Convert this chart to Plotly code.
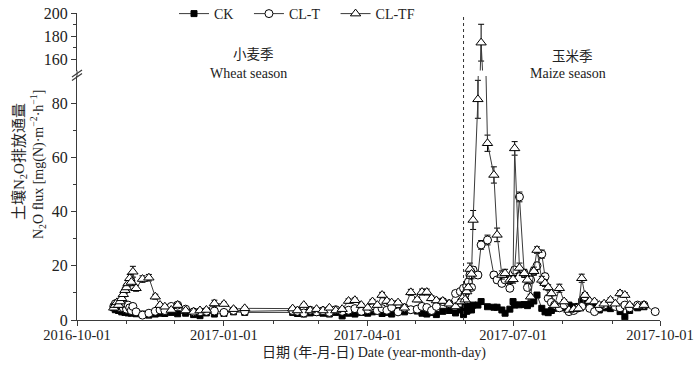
import plotly.graph_objects as go

# ---------------- data ----------------
dates = [
    "2016-10-24", "2016-10-25", "2016-10-26", "2016-10-27", "2016-10-28", "2016-10-29",
    "2016-10-30", "2016-10-31", "2016-11-01", "2016-11-02", "2016-11-03", "2016-11-04",
    "2016-11-05", "2016-11-07", "2016-11-11", "2016-11-15", "2016-11-19", "2016-11-22",
    "2016-11-25", "2016-11-29", "2016-12-03", "2016-12-08", "2016-12-13", "2016-12-17",
    "2016-12-21", "2016-12-26", "2017-01-01", "2017-01-07", "2017-01-14",
    "2017-02-13", "2017-02-16", "2017-02-20", "2017-02-24", "2017-02-28", "2017-03-04",
    "2017-03-08", "2017-03-12", "2017-03-16", "2017-03-20", "2017-03-24", "2017-03-28",
    "2017-04-01", "2017-04-04", "2017-04-07", "2017-04-10", "2017-04-13", "2017-04-16",
    "2017-04-20", "2017-04-24", "2017-04-28", "2017-05-02", "2017-05-05", "2017-05-08",
    "2017-05-11", "2017-05-14", "2017-05-18", "2017-05-22", "2017-05-26", "2017-05-29",
    "2017-05-31",
    "2017-06-01", "2017-06-02", "2017-06-03", "2017-06-04", "2017-06-05", "2017-06-06",
    "2017-06-09", "2017-06-11", "2017-06-15", "2017-06-19", "2017-06-21", "2017-06-24",
    "2017-06-26", "2017-06-29", "2017-07-01", "2017-07-02", "2017-07-05", "2017-07-08",
    "2017-07-10", "2017-07-12", "2017-07-14", "2017-07-16", "2017-07-19", "2017-07-21",
    "2017-07-23", "2017-07-25", "2017-07-27", "2017-07-30", "2017-08-02", "2017-08-05",
    "2017-08-08", "2017-08-11", "2017-08-13", "2017-08-15", "2017-08-18", "2017-08-21",
    "2017-08-24", "2017-08-27", "2017-08-31", "2017-09-03", "2017-09-06", "2017-09-09",
    "2017-09-12", "2017-09-17", "2017-09-21", "2017-09-28",
]

ck = [
    4.5, 3.8, 5.0, 3.5, 4.0, 3.0, 3.5, 2.8, 3.2, 2.6, 3.0, 2.5, 2.8, 2.3, 2.2, 1.8, 2.2, 2.5,
    2.4, 2.8, 2.3, 2.5, 2.0, 1.6, 2.6, 2.2, 2.4, 3.0, 2.8,
    2.8, 2.4, 2.2, 2.6, 2.8, 2.5, 2.2, 2.8, 1.5, 2.5, 2.2, 2.8, 2.5, 3.0, 3.3, 2.4, 2.8, 2.2,
    3.5, 3.0, 3.8, 3.3, 2.5, 2.2, 2.8, 2.0, 3.2, 3.5, 2.6, 3.7, 2.0,
    4.9, 3.2, 3.7, 5.0, 3.7, 5.5, 5.5, 6.8, 4.9, 4.7, 4.7, 3.7, 2.5, 4.0, 6.8, 5.5, 5.6, 5.7,
    5.3, 6.0, 7.0, 9.2, 4.3, 3.0, 2.7, 3.5, 4.3, 4.9, 4.5, 5.5, 4.9, 5.0, 6.8, 6.0, 5.5, 5.0,
    3.7, 4.5, 4.2, 5.0, 3.1, 1.2, 3.5, 4.5, 4.9, None,
]

cl_t = [
    5.0, 6.0, 5.0, 5.5, 4.5, 5.0, 4.5, 5.5, 4.0, 5.5, 4.5, 3.5, 5.0, 3.0, 1.8, 2.5, 3.2, 3.7,
    3.5, 5.0, 5.5, 4.0, 3.0, 3.0, 3.2, 3.3, 2.8, 3.5, 3.2,
    3.5, 3.2, 2.6, 3.6, 3.0, 3.4, 2.8, 3.8, 3.2, 3.6, 4.2, 3.2, 3.8, 4.6, 3.5, 4.2, 3.6, 4.6,
    3.0, 4.5, 3.8, 4.0, 5.0, 4.6, 3.5, 5.0, 6.8, 6.0, 9.8, 10.5, 11.7,
    9.5, 12.5, 14.0, 16.6, 12.0, 18.4, 16.6, 27.7, 29.5, 16.6, 14.8, 13.5, 14.8, 11.7, 17.2,
    18.4, 45.4, 17.2, 12.0, 14.8, 18.0, 20.0, 24.3, 16.0, 8.0, 6.5, 5.5, 4.5, 5.5, 3.1, 3.5,
    4.5, 5.0, 8.6, 4.3, 3.1, 4.5, 5.5, 6.2, 5.0, 4.5, 5.5, 4.5, 5.5, 5.5, 3.1,
]

cl_tf = [
    4.5, 5.5, 6.5, 5.5, 6.8, 8.0, 9.5, 11.0, 12.0, 13.5, 15.4, 14.0, 17.8, 11.7, 15.1, 15.6,
    8.6, 5.5, 4.9, 3.7, 5.5, 3.5, 3.0, 3.5, 3.7, 6.1, 5.9, 4.0, 4.3,
    4.2, 3.5, 5.5, 3.5, 4.0, 3.5, 4.5, 3.5, 4.0, 7.0, 7.3, 5.5, 4.5, 6.8, 5.5, 9.2, 7.0, 6.4,
    6.4, 4.5, 10.2, 7.5, 10.3, 10.3, 8.0, 7.2, 7.0, 6.0, 5.0, 6.8, 8.6,
    7.5, 10.5, 12.0, 18.8, 17.0, 36.9, 81.4, 174.2, 65.2, 53.5, 31.4, 16.6, 17.2, 14.8, 15.0,
    63.3, 19.2, 17.2, 14.8, 8.6, 18.0, 25.8, 14.8, 13.6, 12.0, 9.8, 5.5, 11.7, 6.8, 3.7, 4.0,
    4.2, 15.4, 9.2, 7.0, 6.8, 5.5, 6.0, 7.4, 6.0, 9.8, 9.2, 5.5, 5.0, 5.5, None,
]

ck_err = [
    0.5, 0.4, 0.6, 0.4, 0.5, 0.3, 0.4, 0.3, 0.3, 0.3, 0.3, 0.3, 0.3, 0.3, 0.3, 0.2, 0.3, 0.3,
    0.3, 0.3, 0.3, 0.3, 0.2, 0.2, 0.3, 0.2, 0.3, 0.3, 0.3,
    0.3, 0.3, 0.2, 0.3, 0.3, 0.3, 0.2, 0.3, 0.2, 0.3, 0.2, 0.3, 0.3, 0.3, 0.4, 0.3, 0.3, 0.2,
    0.4, 0.3, 0.4, 0.4, 0.3, 0.2, 0.3, 0.2, 0.3, 0.4, 0.3, 0.4, 0.3,
    0.5, 0.4, 0.4, 0.5, 0.4, 0.5, 0.5, 0.6, 0.5, 0.5, 0.5, 0.4, 0.3, 0.4, 0.6, 0.5, 0.5, 0.5,
    0.5, 0.6, 0.6, 0.8, 0.4, 0.3, 0.3, 0.4, 0.4, 0.5, 0.4, 0.5, 0.5, 0.5, 0.6, 0.6, 0.5, 0.5,
    0.4, 0.4, 0.4, 0.5, 0.3, 0.2, 0.4, 0.4, 0.5, None,
]

cl_t_err = [
    0.6, 0.7, 0.6, 0.6, 0.5, 0.6, 0.5, 0.6, 0.5, 0.6, 0.5, 0.4, 0.6, 0.4, 0.3, 0.3, 0.4, 0.4,
    0.4, 0.5, 0.6, 0.4, 0.4, 0.4, 0.4, 0.4, 0.3, 0.4, 0.4,
    0.4, 0.4, 0.3, 0.4, 0.4, 0.4, 0.3, 0.4, 0.4, 0.4, 0.5, 0.4, 0.4, 0.5, 0.4, 0.5, 0.4, 0.5,
    0.4, 0.5, 0.4, 0.5, 0.5, 0.5, 0.4, 0.5, 0.7, 0.6, 0.9, 1.0, 1.0,
    0.9, 1.0, 1.1, 1.2, 1.0, 1.3, 1.2, 1.6, 1.8, 1.2, 1.1, 1.0, 1.1, 1.0, 1.2, 1.3, 1.8, 1.2,
    1.0, 1.1, 1.2, 1.3, 1.5, 1.2, 0.8, 0.7, 0.6, 0.5, 0.6, 0.4, 0.4, 0.5, 0.6, 0.8, 0.5, 0.4,
    0.5, 0.6, 0.6, 0.5, 0.5, 0.6, 0.5, 0.6, 0.6, 0.4,
]

cl_tf_err = [
    0.6, 0.7, 0.8, 0.7, 0.8, 0.9, 1.0, 1.1, 1.2, 1.3, 1.4, 1.3, 2.0, 1.1, 1.2, 1.2, 0.9, 0.6,
    0.6, 0.5, 0.6, 0.5, 0.4, 0.5, 0.5, 1.2, 0.7, 0.5, 0.5,
    0.5, 0.5, 0.6, 0.5, 0.5, 0.5, 0.5, 0.5, 0.5, 0.8, 0.8, 0.6, 0.5, 0.8, 0.6, 1.0, 0.8, 0.7,
    0.7, 0.5, 1.1, 0.8, 1.1, 1.1, 0.9, 0.8, 0.8, 0.7, 0.6, 0.8, 1.0,
    0.8, 1.0, 1.2, 2.2, 1.8, 3.5, 7.0, 16.0, 3.0, 3.0, 2.5, 1.5, 1.5, 1.3, 1.4, 2.5, 1.8, 1.5,
    1.3, 0.9, 1.5, 1.2, 1.3, 1.2, 1.0, 0.9, 0.6, 1.5, 0.7, 0.5, 0.5, 0.5, 1.5, 0.9, 0.7, 0.7,
    0.6, 0.6, 0.8, 0.6, 1.0, 0.9, 0.6, 0.5, 0.6, None,
]

tick_dates = ["2016-10-01", "2017-01-01", "2017-04-01", "2017-07-01", "2017-10-01"]
lower_ticks = [0, 20, 40, 60, 80]
lower_minor = [10, 30, 50, 70]
upper_ticks = [160, 180, 200]
upper_minor = [170, 190]
season_split = "2017-05-31"

series_names = ["CK", "CL-T", "CL-TF"]

# ---------------- layout geometry ----------------
W, H = 700, 369
L, R, T, B = 77, 40, 13, 49
PW, PH = W - L - R, H - T - B


def px(x):
    return (x - L) / PW


def py(y):
    return (H - B - y) / PH


lower_dom = [0, py(76)]
upper_dom = [py(70.5), 1]

SERIF = "Liberation Serif, 'Times New Roman', serif"
MIXED = "Liberation Serif, 'Noto Sans CJK SC', serif"
INK = "#222222"
LINE = "#3a3a3a"
NBSP = "\u00a0"
legend_pad = [3, 3, 0]   # trailing spaces to widen legend spacing

styles = [
    dict(symbol="square", size=6, color="black", line=dict(color="black", width=1)),
    dict(symbol="circle", size=8, color="white", line=dict(color="black", width=1)),
    dict(symbol="triangle-up", size=9, color="white", line=dict(color="black", width=1)),
]
values = [ck, cl_t, cl_tf]
errors = [ck_err, cl_t_err, cl_tf_err]

fig = go.Figure()
for yax in ["y", "y2"]:
    for name, vals, errs, mk, pad in zip(series_names, values, errors, styles, legend_pad):
        fig.add_trace(go.Scatter(
            x=dates, y=vals, name=name + NBSP * pad, mode="lines+markers",
            xaxis="x", yaxis=yax,
            line=dict(color=LINE, width=1),
            marker=mk,
            error_y=dict(type="data", array=errs, color="black", thickness=1, width=3),
            showlegend=(yax == "y"),
            legendgroup=name,
            connectgaps=False,
        ))

axis_common = dict(
    showgrid=False, zeroline=False, showline=True, linecolor=LINE, linewidth=1,
    ticks="outside", ticklen=5, tickwidth=1, tickcolor=LINE,
    tickfont=dict(family=SERIF, size=16, color=INK),
)

fig.update_layout(
    width=W, height=H,
    margin=dict(l=L, r=R, t=T, b=B, pad=0, autoexpand=False),
    paper_bgcolor="white", plot_bgcolor="white",
    xaxis=dict(
        domain=[0, 1], anchor="y",
        range=[tick_dates[0], tick_dates[-1]],
        tickmode="array", tickvals=tick_dates, ticktext=tick_dates,
        showgrid=False, zeroline=False, showline=True, linecolor=LINE, linewidth=1,
        ticks="outside", ticklen=5, tickwidth=1, tickcolor=LINE,
        ticklabelstandoff=-3,
        tickfont=dict(family=SERIF, size=14.5, color=INK),
        minor=dict(dtick="M1", tick0="2016-10-01", ticks="outside", ticklen=3,
                   tickcolor=LINE, showgrid=False),
    ),
    yaxis=dict(
        domain=lower_dom, anchor="x", range=[0, 90],
        tickmode="array", tickvals=lower_ticks,
        minor=dict(tickvals=lower_minor, ticks="outside", ticklen=3, tickcolor=LINE,
                   showgrid=False),
        **axis_common,
    ),
    yaxis2=dict(
        domain=upper_dom, anchor="x", range=[150, 200],
        tickmode="array", tickvals=upper_ticks,
        minor=dict(tickvals=upper_minor, ticks="outside", ticklen=3, tickcolor=LINE,
                   showgrid=False),
        **axis_common,
    ),
    legend=dict(
        orientation="h", x=px(174), y=py(14), xanchor="left", yanchor="middle",
        font=dict(family=SERIF, size=14, color=INK),
        bgcolor="rgba(0,0,0,0)", itemwidth=30, traceorder="normal",
    ),
    showlegend=True,
)

# season boundary (dotted)
fig.add_shape(type="line", xref="x", yref="paper", x0=season_split, x1=season_split,
              y0=0, y1=py(17), line=dict(color="#333333", width=1, dash="dot"))

# fill the y-axis gap and draw the break marks
fig.add_shape(type="line", xref="paper", yref="paper", x0=0, x1=0,
              y0=lower_dom[1], y1=upper_dom[0], line=dict(color=LINE, width=1))
for off in (0, 3.5):
    fig.add_shape(type="line", xref="paper", yref="paper",
                  x0=px(72), y0=py(77 + off), x1=px(82), y1=py(70 + off),
                  line=dict(color=LINE, width=1.2))

ann = []
ann.append(dict(text="小麦季", x=px(253), y=py(55), font=dict(family=MIXED, size=13.5, color=INK)))
ann.append(dict(text="Wheat season", x=px(248), y=py(73), font=dict(family=SERIF, size=14, color=INK)))
ann.append(dict(text="玉米季", x=px(572), y=py(57), font=dict(family=MIXED, size=13.5, color=INK)))
ann.append(dict(text="Maize season", x=px(568), y=py(73), font=dict(family=SERIF, size=14, color=INK)))
ann.append(dict(text="日期 (年-月-日) Date (year-month-day)", x=px(374), y=py(353),
                font=dict(family=MIXED, size=14, color=INK)))
ann.append(dict(text="土壤N<sub>2</sub>O排放通量", x=px(19), y=py(162), textangle=-90,
                font=dict(family=MIXED, size=15, color=INK)))
ann.append(dict(text="N<sub>2</sub>O flux [mg(N)·m<sup>−2</sup>·h<sup>−1</sup>]", x=px(38), y=py(165),
                textangle=-90, font=dict(family=SERIF, size=14, color=INK)))
for a in ann:
    fig.add_annotation(xref="paper", yref="paper", showarrow=False,
                       xanchor="center", yanchor="middle", **a)

fig.write_html(
    "out.html",
    config={"displayModeBar": False},
    post_script="document.body.style.margin='0px';document.body.style.padding='0px';",
)
